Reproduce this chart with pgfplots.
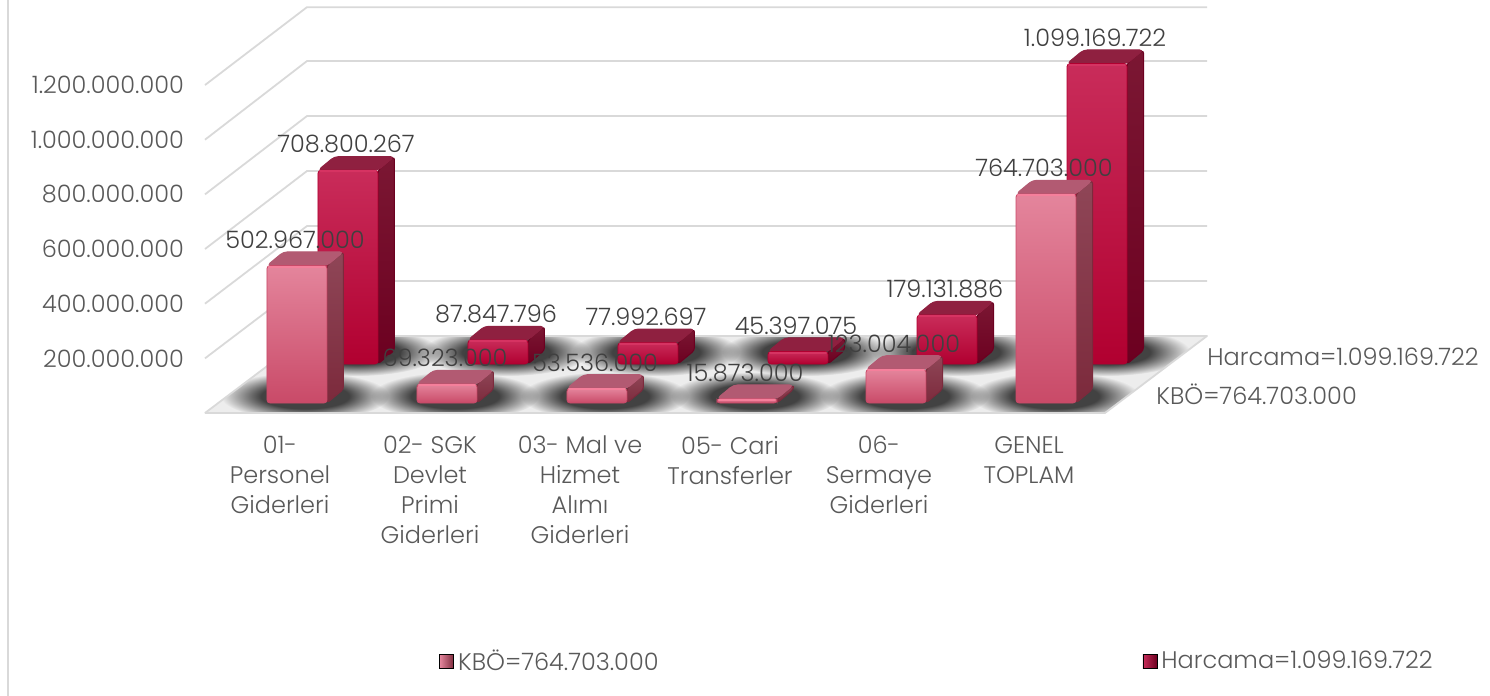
\documentclass[border=0pt]{standalone}
\usepackage{fontspec}
\setmainfont{Poppins}[UprightFont=* Light]
\usepackage{pgfplots}
\usepackage{pgfplotstable}
\pgfplotsset{compat=1.18}
\usetikzlibrary{fadings}
\pgfdeclareradialshading{blobsh}{\pgfpointorigin}{color(0bp)=(white); color(13bp)=(white); color(25bp)=(black); color(50bp)=(black)}
\pgfdeclarefading{blobf}{\pgfuseshading{blobsh}}
\newcommand\chartfont{\fontsize{12}{15}\selectfont}
\definecolor{txt}{HTML}{595959}
\definecolor{lab}{HTML}{404040}
\definecolor{gridc}{HTML}{D9D9D9}
\definecolor{floorc}{HTML}{EDEDED}
\definecolor{kf1}{HTML}{E4859C}
\definecolor{kf2}{HTML}{C94A68}
\definecolor{ks1}{HTML}{8F4657}
\definecolor{ks2}{HTML}{7C2A3C}
\definecolor{kt}{HTML}{B25A72}
\definecolor{kh}{HTML}{F57F9B}
\definecolor{hf1}{HTML}{C92C5A}
\definecolor{hf2}{HTML}{B10030}
\definecolor{hs1}{HTML}{7B1733}
\definecolor{hs2}{HTML}{6C0020}
\definecolor{ht}{HTML}{8F2040}
\definecolor{hh}{HTML}{D63362}
\pgfplotstableread{
x v lbl
297 502.967 502.967.000
447 69.323 69.323.000
597 53.536 53.536.000
747 15.873 15.873.000
896 123.004 123.004.000
1046 764.703 764.703.000
}\kbo
\pgfplotstableread{
x v lbl
348 708.800267 708.800.267
498 87.847796 87.847.796
648 77.992697 77.992.697
798 45.397075 45.397.075
947 179.131886 179.131.886
1097 1099.169722 1.099.169.722
}\harcama
\newcommand\faces[7]{%
 \pgfmathsetmacro\xl{#1-30}\pgfmathsetmacro\xr{#1+30}%
 \pgfmathsetmacro\xd{#1+46.5}\pgfmathsetmacro\xld{#1-13.5}%
 \pgfmathsetmacro\yb{#3}\pgfmathsetmacro\yt{#3+#2}%
 \pgfmathsetmacro\ytd{#3+#2+50}\pgfmathsetmacro\ybd{#3+50}%
 \edef\temp{\noexpand\addplot[forget plot,mark=none,top color=#4,bottom color=#5,draw=#5,line width=.5pt,line join=round,rounded corners=1.5pt] coordinates {(\xr,\yb)(\xd,\ybd)(\xd,\ytd)(\xr,\yt)} --cycle;%
 \noexpand\addplot[forget plot,mark=none,fill=#6,draw=#6,line width=.5pt,line join=round,rounded corners=2pt] coordinates {(\xl,\yt)(\xr,\yt)(\xd,\ytd)(\xld,\ytd)} --cycle;}%
 \temp}
% front face as a ybar of its own, then the bevel line
\newcommand\front[7]{%
 \pgfmathsetmacro\xl{#1-28}\pgfmathsetmacro\xr{#1+28}%
 \pgfmathsetmacro\yt{#3+#2-4}%
 \edef\temp{\noexpand\addplot[forget plot,ybar,bar width=30pt,bar shift=0pt,yshift=#4,top color=#5,bottom color=#6,draw=#6,line width=.4pt,rounded corners=1.5pt] coordinates {(#1,#2)};%
 \noexpand\addplot[forget plot,mark=none,draw=#7,line width=1pt,line cap=round] coordinates {(\xl,\yt)(\xr,\yt)};}%
 \temp}
\newcommand\wall[2]{\draw[gridc,line width=.9pt] (axis cs:205,#1) -- (axis cs:307,#2) -- (axis cs:1207,#2);}
\newcommand\blob[2]{\fill[black!74,path fading=blobf] (axis cs:#1,#2) ellipse [x radius=42pt,y radius=12pt];}
\begin{document}
\begin{tikzpicture}[x=1pt,y=1pt]
\path[use as bounding box] (-102.5pt,-141.5pt) rectangle (642.5pt,206.5pt);
\begin{axis}[
  at={(0,0)},anchor=origin,
  scale only axis,width=501pt,height=203pt,
  xmin=205,xmax=1207,ymin=0,ymax=1485.6,
  clip=false,
  axis line style={draw=none},
  major tick length=0pt,
  tick style={draw=none},
  xtick={280,430,580,730,879,1029},
  xticklabels={{01-\\Personel\\Giderleri},{02- SGK\\Devlet\\Primi\\Giderleri},{03- Mal ve\\Hizmet\\Alımı\\Giderleri},{05- Cari\\Transferler},{06-\\Sermaye\\Giderleri},{GENEL\\TOPLAM}},
  xticklabel style={align=center,anchor=north,yshift=-8pt,text=txt,font=\chartfont},
  ytick={200,400,600,800,1000,1200},
  yticklabels={200.000.000,400.000.000,600.000.000,800.000.000,1.000.000.000,1.200.000.000},
  yticklabel style={text=txt,font=\chartfont,xshift=-7pt},
  legend columns=2,
  legend cell align=left,
  legend style={at={(axis cs:439,-909)},anchor=west,draw=none,fill=none,inner sep=0pt,font=\chartfont,text=txt,
    /tikz/every even column/.append style={column sep=240pt}},
]
\draw[gridc,line width=.9pt] (axis cs:8,1511) -- (axis cs:8,-1035.5);
\wall{200}{483.0}\wall{400}{684.2}\wall{600}{885.5}\wall{800}{1086.7}\wall{1000}{1287.9}\wall{1200}{1485}
\fill[floorc] (axis cs:205,0) -- (axis cs:1105,0) -- (axis cs:1207,281.8) -- (axis cs:307,281.8) -- cycle;
\begin{scope}
\clip (axis cs:205,0) -- (axis cs:1105,0) -- (axis cs:1207,281.8) -- (axis cs:307,281.8) -- cycle;
\blob{305}{62}\blob{455}{62}\blob{605}{62}\blob{755}{62}\blob{905}{62}\blob{1055}{62}
\blob{356}{223}\blob{506}{223}\blob{656}{223}\blob{806}{223}\blob{956}{223}\blob{1106}{223}
\end{scope}
\draw[gridc,line width=.9pt,line join=round] (axis cs:205,0) -- (axis cs:1105,0) -- (axis cs:1207,281.8) -- (axis cs:307,281.8);
\draw[gridc,line width=.9pt] (axis cs:205,0) -- (axis cs:307,281.8);
\pgfplotsforeachungrouped \i in {0,...,5}{%
  \pgfplotstablegetelem{\i}{x}\of\harcama\let\curx\pgfplotsretval
  \pgfplotstablegetelem{\i}{v}\of\harcama\let\curv\pgfplotsretval
  \faces{\curx}{\curv}{179.3}{hs1}{hs2}{ht}{hh}%
  \front{\curx}{\curv}{179.3}{24.5pt}{hf1}{hf2}{hh}%
}
\pgfplotsforeachungrouped \i in {0,...,5}{%
  \pgfplotstablegetelem{\i}{x}\of\kbo\let\curx\pgfplotsretval
  \pgfplotstablegetelem{\i}{v}\of\kbo\let\curv\pgfplotsretval
  \faces{\curx}{\curv}{36.6}{ks1}{ks2}{kt}{kh}%
  \front{\curx}{\curv}{36.6}{5pt}{kf1}{kf2}{kh}%
}
\addplot[forget plot,draw=none,mark=none,yshift=24.5pt,point meta=explicit symbolic,
  nodes near coords,nodes near coords style={anchor=center,yshift=13pt,xshift=-1pt,text=lab,font=\chartfont}]
  table[x=x,y=v,meta=lbl] {\harcama};
\addplot[forget plot,draw=none,mark=none,yshift=5pt,point meta=explicit symbolic,
  nodes near coords,nodes near coords style={anchor=center,yshift=13pt,xshift=-1pt,text=lab,font=\chartfont}]
  table[x=x,y=v,meta=lbl] {\kbo};
\node[anchor=west,inner sep=0pt,text=txt,font=\chartfont] at (axis cs:1207,205) {Harcama=1.099.169.722};
\node[anchor=west,inner sep=0pt,text=txt,font=\chartfont] at (axis cs:1156,69) {KBÖ=764.703.000};
\addlegendimage{legend image code/.code={\shade[left color=kf1,right color=ks2] (0pt,-3.5pt) rectangle (7pt,3.5pt);}}
\addlegendentry{KBÖ=764.703.000}
\addlegendimage{legend image code/.code={\shade[left color=hf1,right color=hs2] (0pt,-3.5pt) rectangle (7pt,3.5pt);}}
\addlegendentry{Harcama=1.099.169.722}
\end{axis}
\end{tikzpicture}
\end{document}
